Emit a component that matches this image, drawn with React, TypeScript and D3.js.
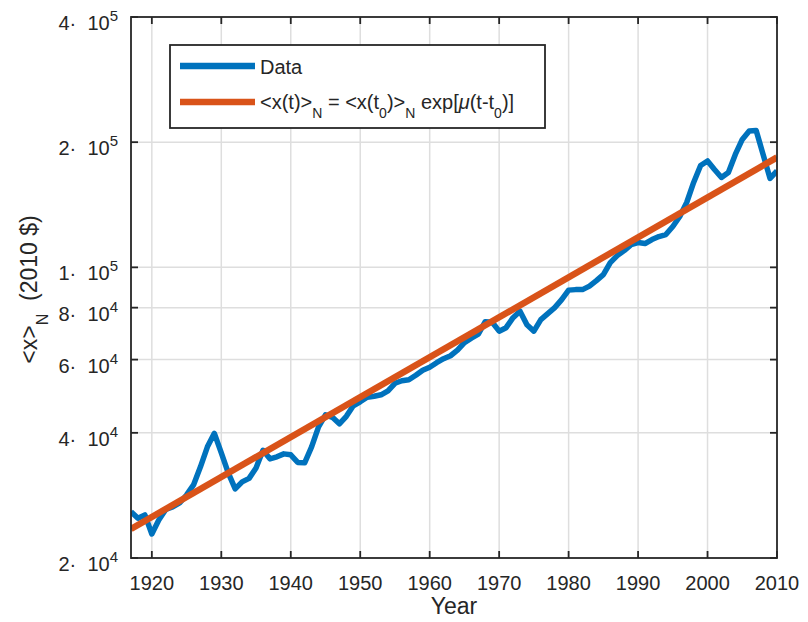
import React, { useEffect, useRef } from 'react';
import * as d3 from 'd3';

// annual mean income, 2010 dollars
const years = [
  1917, 1918, 1919, 1920, 1921, 1922, 1923, 1924, 1925, 1926,
  1927, 1928, 1929, 1930, 1931, 1932, 1933, 1934, 1935, 1936,
  1937, 1938, 1939, 1940, 1941, 1942, 1943, 1944, 1945, 1946,
  1947, 1948, 1949, 1950, 1951, 1952, 1953, 1954, 1955, 1956,
  1957, 1958, 1959, 1960, 1961, 1962, 1963, 1964, 1965, 1966,
  1967, 1968, 1969, 1970, 1971, 1972, 1973, 1974, 1975, 1976,
  1977, 1978, 1979, 1980, 1981, 1982, 1983, 1984, 1985, 1986,
  1987, 1988, 1989, 1990, 1991, 1992, 1993, 1994, 1995, 1996,
  1997, 1998, 1999, 2000, 2001, 2002, 2003, 2004, 2005, 2006,
  2007, 2008, 2009, 2010,
];
const meanIncome = [
  25850, 24920, 25390, 22850, 24690, 26170, 26540, 27130, 28360, 29980,
  33130, 37010, 39890, 35800, 32040, 29320, 30480, 31080, 32940, 36300,
  34630, 35020, 35600, 35410, 33960, 33870, 37010, 41350, 44200, 43590,
  42050, 43830, 46460, 47500, 48700, 48970, 49380, 50490, 52630, 53370,
  53660, 55020, 56570, 57520, 58970, 60290, 61300, 63200, 65890, 67550,
  69070, 74030, 73800, 70230, 71600, 75680, 78470, 72810, 70230, 74850,
  77390, 80000, 83630, 88150, 88400, 88400, 90130, 92920, 96070, 102670,
  106730, 109740, 113450, 114720, 114080, 116640, 118600, 119920, 125370, 132510,
  143200, 160000, 175820, 180260, 171960, 164500, 169120, 186870, 203080, 212880,
  213480, 186870, 163580, 170540,
];
// exponential fit, end points (straight on the log axis)
const fitYears = [1917, 2010];
const fitIncome = [23490, 183800];

const xTicks = [1920, 1930, 1940, 1950, 1960, 1970, 1980, 1990, 2000, 2010];
const yTicks = [2e4, 4e4, 6e4, 8e4, 1e5, 2e5, 4e5];
const yTickMantissa = ['2', '4', '6', '8', '1', '2', '4'];
const yTickExponent = ['4', '4', '4', '4', '5', '5', '5'];

const FONT = 'Liberation Sans, Arial, Helvetica, sans-serif';
const INK = '#262626';
const BLUE = '#0072BD';
const ORANGE = '#D95319';

export default function App() {
  const ref = useRef<SVGSVGElement>(null);

  useEffect(() => {
    const svg = d3.select(ref.current);
    svg.selectAll('*').remove();

    const left = 131;
    const right = 777;
    const top = 17;
    const bottom = 558;
    const tickLen = 7;

    const x = d3.scaleLinear().domain([1917, 2010]).range([left, right]);
    const y = d3.scaleLog().domain([2e4, 4e5]).range([bottom, top]);

    svg.append('rect').attr('width', 808).attr('height', 622).attr('fill', 'white');

    // grid
    const grid = svg.append('g')
      .attr('stroke', '#dedede')
      .attr('stroke-width', 1.5);
    grid.selectAll('line.vx')
      .data(xTicks.filter((t) => x(t) > left + 1 && x(t) < right - 1))
      .enter()
      .append('line')
      .attr('x1', (d) => x(d))
      .attr('x2', (d) => x(d))
      .attr('y1', top)
      .attr('y2', bottom);
    grid.selectAll('line.hy')
      .data(yTicks.filter((t) => y(t) > top + 1 && y(t) < bottom - 1))
      .enter()
      .append('line')
      .attr('x1', left)
      .attr('x2', right)
      .attr('y1', (d) => y(d))
      .attr('y2', (d) => y(d));

    // clip to the axes box
    svg.append('defs')
      .append('clipPath')
      .attr('id', 'plotClip')
      .append('rect')
      .attr('x', left)
      .attr('y', top)
      .attr('width', right - left)
      .attr('height', bottom - top);

    const plot = svg.append('g').attr('clip-path', 'url(#plotClip)');

    const dataLine = d3.line<number>()
      .x((d, i) => x(years[i]))
      .y((d) => y(d));
    plot.append('path')
      .attr('d', dataLine(meanIncome))
      .attr('fill', 'none')
      .attr('stroke', BLUE)
      .attr('stroke-width', 5.5)
      .attr('stroke-linejoin', 'round');

    const fitLine = d3.line<number>()
      .x((d, i) => x(fitYears[i]))
      .y((d) => y(d));
    plot.append('path')
      .attr('d', fitLine(fitIncome))
      .attr('fill', 'none')
      .attr('stroke', ORANGE)
      .attr('stroke-width', 6.5);

    // axes box and ticks
    const axes = svg.append('g')
      .attr('stroke', INK)
      .attr('stroke-width', 1.8)
      .attr('fill', 'none');
    axes.append('rect')
      .attr('x', left)
      .attr('y', top)
      .attr('width', right - left)
      .attr('height', bottom - top);
    xTicks.forEach((t) => {
      axes.append('line').attr('x1', x(t)).attr('x2', x(t)).attr('y1', bottom).attr('y2', bottom - tickLen);
      axes.append('line').attr('x1', x(t)).attr('x2', x(t)).attr('y1', top).attr('y2', top + tickLen);
    });
    yTicks.forEach((t) => {
      axes.append('line').attr('x1', left).attr('x2', left + tickLen).attr('y1', y(t)).attr('y2', y(t));
      axes.append('line').attr('x1', right).attr('x2', right - tickLen).attr('y1', y(t)).attr('y2', y(t));
    });

    // x tick labels
    svg.append('g')
      .selectAll('text')
      .data(xTicks)
      .enter()
      .append('text')
      .attr('x', (d) => x(d))
      .attr('y', bottom + 32)
      .attr('text-anchor', 'middle')
      .style('font-family', FONT)
      .style('font-size', '20px')
      .style('fill', INK)
      .text((d) => String(d));

    // y tick labels  m· 10^e
    const yLab = svg.append('g')
      .selectAll('text')
      .data(yTicks)
      .enter()
      .append('text')
      .attr('x', 118)
      .attr('y', (d) => y(d) + 13)
      .attr('text-anchor', 'end')
      .style('font-family', FONT)
      .style('font-size', '20px')
      .style('fill', INK);
    yLab.append('tspan').text((d, i) => `${yTickMantissa[i]}\u00b7\u00a0\u00a010`);
    yLab.append('tspan')
      .attr('dy', -9)
      .style('font-size', '15px')
      .text((d, i) => yTickExponent[i]);

    // axis labels
    svg.append('text')
      .attr('x', (left + right) / 2)
      .attr('y', 614)
      .attr('text-anchor', 'middle')
      .style('font-family', FONT)
      .style('font-size', '23px')
      .style('fill', INK)
      .text('Year');

    const yTitle = svg.append('text')
      .attr('transform', `translate(37, ${(top + bottom) / 2 + 2}) rotate(-90)`)
      .attr('text-anchor', 'middle')
      .style('font-family', FONT)
      .style('font-size', '23px')
      .style('fill', INK)
      .style('white-space', 'pre');
    yTitle.append('tspan').text('<x>');
    yTitle.append('tspan').attr('dy', 11).style('font-size', '16px').text('N');
    yTitle.append('tspan').attr('dy', -11).text('\u00a0\u00a0(2010 $)');

    // legend
    const legend = svg.append('g');
    legend.append('rect')
      .attr('x', 170)
      .attr('y', 45)
      .attr('width', 375)
      .attr('height', 83)
      .attr('fill', 'white')
      .attr('stroke', INK)
      .attr('stroke-width', 1.8);
    legend.append('line')
      .attr('x1', 180).attr('x2', 255)
      .attr('y1', 66).attr('y2', 66)
      .attr('stroke', BLUE)
      .attr('stroke-width', 6.5);
    legend.append('line')
      .attr('x1', 180).attr('x2', 255)
      .attr('y1', 102).attr('y2', 102)
      .attr('stroke', ORANGE)
      .attr('stroke-width', 6.5);
    legend.append('text')
      .attr('x', 260)
      .attr('y', 74)
      .style('font-family', FONT)
      .style('font-size', '20px')
      .style('fill', INK)
      .text('Data');

    const pieces: [string, string][] = [
      ['<x(t)>', ''], ['N', 'sub'], [' = <x(t', ''], ['0', 'sub'], [')>', ''], ['N', 'sub'],
      [' exp[', ''], ['\u03bc', 'mu'], ['(t-t', ''], ['0', 'sub'], [')]', ''],
    ];
    const fitText = legend.append('text')
      .attr('x', 260)
      .attr('y', 109)
      .style('font-family', FONT)
      .style('font-size', '20px')
      .style('fill', INK)
      .style('white-space', 'pre');
    let shifted = false;
    pieces.forEach(([s, kind]) => {
      const ts = fitText.append('tspan').text(s);
      if (kind === 'sub') {
        ts.attr('dy', shifted ? 0 : 9).style('font-size', '14px');
        shifted = true;
      } else {
        if (shifted) ts.attr('dy', -9);
        shifted = false;
        if (kind === 'mu') ts.style('font-style', 'italic');
      }
    });
  }, []);

  return (
    <div style={{ position: 'absolute', left: 0, top: 0 }}>
      <svg ref={ref} width={808} height={622} />
    </div>
  );
}
